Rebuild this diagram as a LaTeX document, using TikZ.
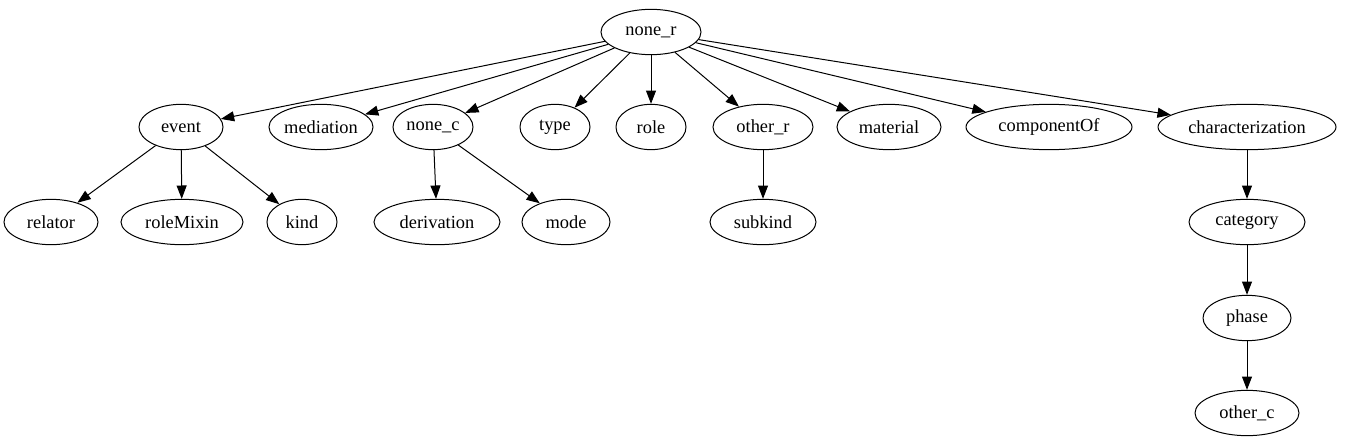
\documentclass[tikz,border=0pt]{standalone}
\usepackage{fontspec}
\setmainfont{Liberation Serif}
\usetikzlibrary{arrows.meta,shapes.geometric}
\begin{document}
\begin{tikzpicture}[x=0.75pt,y=-0.75pt,
  kindnode/.style={draw,ellipse,line width=0.75pt,inner sep=0pt,minimum height=34pt,font=\fontsize{13.8}{16}\selectfont},
  isa/.style={line width=0.75pt,-{Triangle[length=10pt,width=7.5pt]}}]
\useasboundingbox (0,0) rectangle (1345,443);
% top level
\node[kindnode,minimum width=75pt] (noner) at (651,32) {none\_r};
% second level
\node[kindnode,minimum width=63pt] (event) at (181,127) {event};
\node[kindnode,minimum width=78pt] (mediation) at (321,127) {mediation};
\node[kindnode,minimum width=60pt] (nonec) at (433,127) {none\_c};
\node[kindnode,minimum width=52.5pt] (type) at (555,127) {type};
\node[kindnode,minimum width=52.5pt] (role) at (651,127) {role};
\node[kindnode,minimum width=75pt] (otherr) at (763,127) {other\_r};
\node[kindnode,minimum width=78pt] (material) at (889,127) {material};
\node[kindnode,minimum width=124.5pt] (componentof) at (1049,127) {componentOf};
\node[kindnode,minimum width=133.5pt] (charact) at (1247,127) {characterization};
% third level
\node[kindnode,minimum width=70.5pt] (relator) at (51,222) {relator};
\node[kindnode,minimum width=91.5pt] (rolemixin) at (182,222) {roleMixin};
\node[kindnode,minimum width=52.5pt] (kind) at (302,222) {kind};
\node[kindnode,minimum width=94.5pt] (derivation) at (437,222) {derivation};
\node[kindnode,minimum width=66pt] (mode) at (566,222) {mode};
\node[kindnode,minimum width=79.5pt] (subkind) at (763,222) {subkind};
\node[kindnode,minimum width=87pt] (category) at (1247,222) {category};
% lower levels
\node[kindnode,minimum width=66pt] (phase) at (1247,318) {phase};
\node[kindnode,minimum width=78pt] (otherc) at (1247,413) {other\_c};
% edges
\foreach \t in {event,mediation,nonec,type,role,otherr,material,componentof,charact}
  \draw[isa] (noner) -- (\t);
\foreach \t in {relator,rolemixin,kind}
  \draw[isa] (event) -- (\t);
\draw[isa] (nonec) -- (derivation);
\draw[isa] (nonec) -- (mode);
\draw[isa] (otherr) -- (subkind);
\draw[isa] (charact) -- (category);
\draw[isa] (category) -- (phase);
\draw[isa] (phase) -- (otherc);
\end{tikzpicture}
\end{document}
